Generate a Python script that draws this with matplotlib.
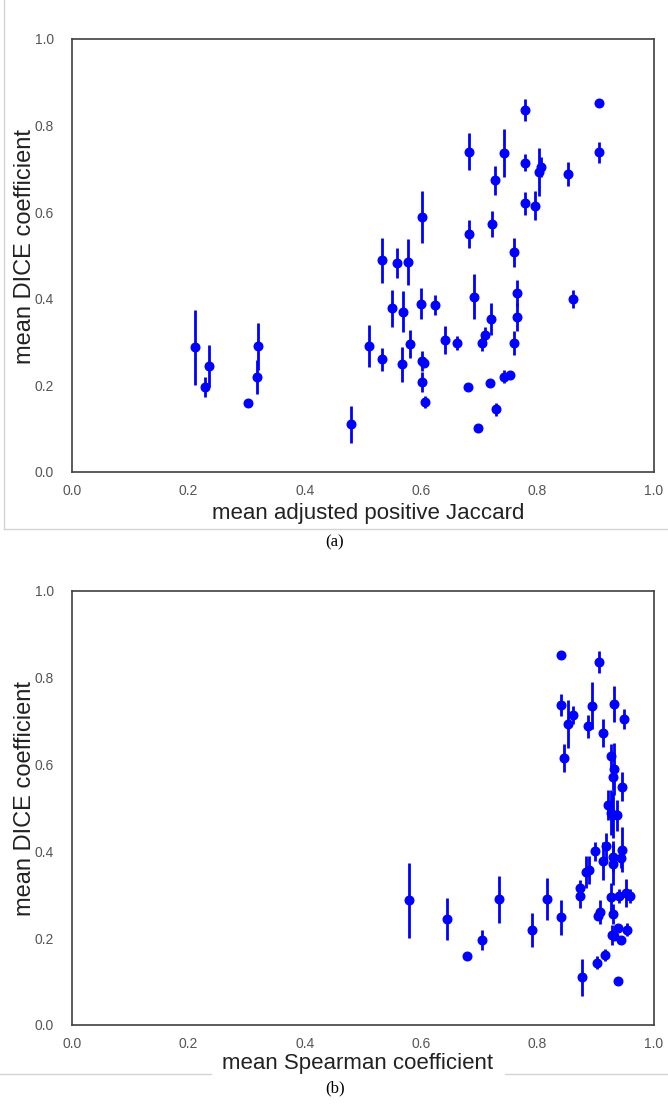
import numpy as np
import matplotlib
matplotlib.use('Agg')
from matplotlib import pyplot as plt
from matplotlib.lines import Line2D

plt.rcParams['font.family'] = ['Liberation Sans', 'DejaVu Sans']

# per dataset means
jaccard = [0.211, 0.2285, 0.236, 0.303, 0.320, 0.318, 0.479, 0.510, 0.533, 0.533,
           0.558, 0.578, 0.549, 0.569, 0.601, 0.600, 0.624, 0.580, 0.5675, 0.602,
           0.605, 0.601, 0.606, 0.641, 0.661, 0.680, 0.682, 0.682, 0.691, 0.698,
           0.705, 0.710, 0.7195, 0.718, 0.722, 0.727, 0.729, 0.743, 0.743, 0.753,
           0.759, 0.764, 0.764, 0.760, 0.779, 0.778, 0.779, 0.796, 0.803, 0.806,
           0.852, 0.860, 0.906, 0.906]
spearman = [0.579, 0.704, 0.644, 0.678, 0.734, 0.791, 0.876, 0.817, 0.926, 0.908,
            0.936, 0.930, 0.912, 0.929, 0.932, 0.929, 0.944, 0.926, 0.840, 0.930,
            0.904, 0.927, 0.916, 0.952, 0.940, 0.943, 0.931, 0.945, 0.945, 0.939,
            0.959, 0.872, 0.884, 0.932, 0.930, 0.912, 0.9015, 0.893, 0.954, 0.939,
            0.921, 0.918, 0.889, 0.872, 0.905, 0.861, 0.926, 0.845, 0.852, 0.949,
            0.887, 0.899, 0.841, 0.841]
dice = [0.2875, 0.196, 0.244, 0.159, 0.290, 0.219, 0.1095, 0.290, 0.489, 0.260,
        0.483, 0.484, 0.378, 0.370, 0.589, 0.388, 0.385, 0.295, 0.248, 0.256,
        0.252, 0.2066, 0.162, 0.304, 0.297, 0.195, 0.740, 0.549, 0.404, 0.102,
        0.297, 0.315, 0.352, 0.206, 0.572, 0.673, 0.144, 0.736, 0.220, 0.2235,
        0.507, 0.412, 0.357, 0.297, 0.836, 0.714, 0.620, 0.615, 0.693, 0.705,
        0.688, 0.400, 0.852, 0.738]
dice_err = [0.086, 0.024, 0.048, 0.010, 0.054, 0.040, 0.043, 0.048, 0.052, 0.027,
            0.035, 0.053, 0.043, 0.047, 0.060, 0.036, 0.023, 0.032, 0.040, 0.023,
            0.008, 0.023, 0.014, 0.032, 0.016, 0.0, 0.042, 0.033, 0.052, 0.0,
            0.017, 0.020, 0.037, 0.0, 0.030, 0.033, 0.015, 0.055, 0.015, 0.0,
            0.034, 0.030, 0.032, 0.028, 0.026, 0.020, 0.027, 0.033, 0.055, 0.023,
            0.027, 0.021, 0.0, 0.025]

ticks = [0.0, 0.2, 0.4, 0.6, 0.8, 1.0]

W, H = 668, 1109
fig = plt.figure(figsize=(W / 100.0, H / 100.0), dpi=100)
fig.patch.set_facecolor('white')


def fx(px):
    return px / float(W)


def fy(px):
    return 1 - px / float(H)


def scatter_panel(top, bottom, x, xlabel, xlabel_x, xlabel_y):
    left, right = 72, 654
    ax = fig.add_axes([fx(left), fy(bottom), (right - left) / float(W), (bottom - top) / float(H)])
    ax.errorbar(x, dice, yerr=dice_err, fmt='o', color='#0000ff', ecolor='#0000ff',
                elinewidth=2.0, markersize=6.2, capsize=0)
    ax.set_xlim(0, 1)
    ax.set_ylim(0, 1)
    ax.set_xticks(ticks)
    ax.set_yticks(ticks)
    ax.set_xticklabels(['%.1f' % t for t in ticks])
    ax.set_yticklabels(['%.1f' % t for t in ticks])
    ax.tick_params(length=0, labelsize=10, colors='#555555')
    ax.tick_params(axis='x', pad=9)
    ax.tick_params(axis='y', pad=13)
    for s in ax.spines.values():
        s.set_color('#404040')
        s.set_linewidth(1.2)
    # axis titles placed by hand
    fig.text(fx(25), fy((top + bottom) / 2.0 - 9), 'mean DICE coefficient', rotation=90,
             ha='center', va='center', fontsize=17, color='#222222')
    fig.text(fx(xlabel_x), fy(xlabel_y), xlabel, ha='center', va='center',
             fontsize=16, color='#222222')
    return ax


ax1 = scatter_panel(39, 471.7, jaccard, 'mean adjusted positive Jaccard', 368, 514)
ax2 = scatter_panel(591, 1025, spearman, 'mean Spearman coefficient', 358, 1063)

# frame lines around the panels
grey = '#d4d4d4'
for xs, ys in [([4, 4], [0, 529]), ([4, W], [529, 529]),
               ([0, 211], [1074, 1074]), ([505, W], [1074, 1074])]:
    fig.add_artist(Line2D([fx(v) for v in xs], [fy(v) for v in ys],
                          transform=fig.transFigure, color=grey, lw=1))

fig.text(fx(335), fy(542), '(a)', ha='center', va='center', fontsize=12,
         family=['Liberation Serif', 'DejaVu Serif'])
fig.text(fx(335), fy(1088), '(b)', ha='center', va='center', fontsize=12,
         family=['Liberation Serif', 'DejaVu Serif'])

fig.savefig('out.png', dpi=100, facecolor='white')
